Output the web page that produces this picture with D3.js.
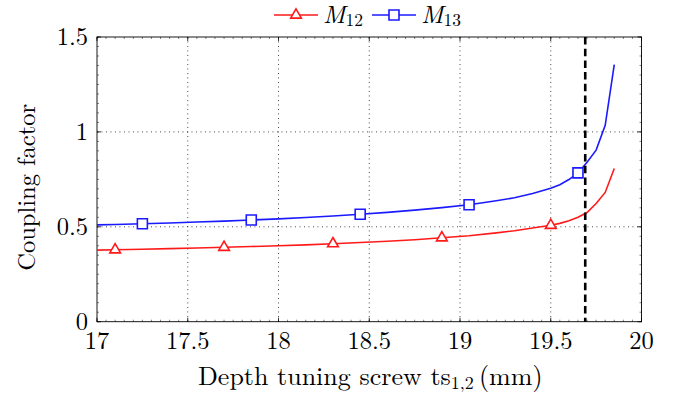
<!DOCTYPE html>
<html>
<head>
<meta charset="utf-8">
<script src="https://cdn.jsdelivr.net/npm/d3@7"></script>
<style>
  body { margin: 0; background: #fff; }
</style>
</head>
<body>
<div id="chart"></div>
<script>
// sample positions along the screw depth (mm)
let depth = [17.0, 17.1, 17.25, 17.4, 17.55, 17.7, 17.85, 18.0, 18.15, 18.3, 18.45, 18.6, 18.75,
	18.9, 19.05, 19.2, 19.3, 19.4, 19.5, 19.55, 19.6, 19.65, 19.7, 19.75, 19.8, 19.85];

let m12 = [0.377, 0.379, 0.382, 0.385, 0.388, 0.392, 0.396, 0.400, 0.405, 0.411, 0.417, 0.424, 0.432,
	0.442, 0.453, 0.468, 0.479, 0.494, 0.508, 0.518, 0.532, 0.550, 0.575, 0.623, 0.681, 0.807];

let m13 = [0.510, 0.512, 0.516, 0.520, 0.525, 0.530, 0.536, 0.542, 0.549, 0.557, 0.566, 0.576, 0.588,
	0.601, 0.616, 0.637, 0.653, 0.675, 0.703, 0.722, 0.749, 0.784, 0.840, 0.904, 1.035, 1.355];

// where the marks sit
let m12Marks = [17.1, 17.7, 18.3, 18.9, 19.5];
let m13Marks = [17.25, 17.85, 18.45, 19.05, 19.65];

let xTicks = [17, 17.5, 18, 18.5, 19, 19.5, 20];
let yTicks = [0, 0.5, 1, 1.5];
let cutoff = 19.69; // dashed marker line

let W = 673, H = 396;
let pLeft = 97, pRight = 641.5, pTop = 37, pBottom = 321.7;
let fs = 24.5; // main font size

let svg = d3.select("#chart").append("svg")
	.attr("width", W)
	.attr("height", H)
	.style("font-family", "'Latin Modern Roman', 'Liberation Serif', serif");

let x = d3.scaleLinear().domain([17, 20]).range([pLeft, pRight]);
let y = d3.scaleLinear().domain([0, 1.5]).range([pBottom, pTop]);

// dotted grid
let grid = svg.append("g")
	.attr("stroke", "#000")
	.attr("stroke-width", 0.8)
	.attr("stroke-dasharray", "0.9 3.6");

grid.selectAll("line.gx")
	.data(xTicks.slice(1, -1))
	.enter().append("line")
	.attr("x1", d => x(d)).attr("x2", d => x(d))
	.attr("y1", pTop).attr("y2", pBottom);

grid.selectAll("line.gy")
	.data(yTicks.slice(1, -1))
	.enter().append("line")
	.attr("x1", pLeft).attr("x2", pRight)
	.attr("y1", d => y(d)).attr("y2", d => y(d));

// minor ticks on all four sides
let minorX = d3.range(17, 20.001, 0.05);
let minorY = d3.range(0, 1.5001, 0.05);
let ticks = svg.append("g").attr("stroke", "#333").attr("stroke-width", 0.6);

minorX.forEach(v => {
	ticks.append("line").attr("x1", x(v)).attr("x2", x(v)).attr("y1", pBottom).attr("y2", pBottom - 2);
	ticks.append("line").attr("x1", x(v)).attr("x2", x(v)).attr("y1", pTop).attr("y2", pTop + 2);
});
minorY.forEach(v => {
	ticks.append("line").attr("x1", pLeft).attr("x2", pLeft + 2).attr("y1", y(v)).attr("y2", y(v));
	ticks.append("line").attr("x1", pRight).attr("x2", pRight - 2).attr("y1", y(v)).attr("y2", y(v));
});

// major ticks
let major = svg.append("g").attr("stroke", "#000").attr("stroke-width", 0.8);
xTicks.forEach(v => {
	major.append("line").attr("x1", x(v)).attr("x2", x(v)).attr("y1", pBottom).attr("y2", pBottom - 4);
	major.append("line").attr("x1", x(v)).attr("x2", x(v)).attr("y1", pTop).attr("y2", pTop + 4);
});
yTicks.forEach(v => {
	major.append("line").attr("x1", pLeft).attr("x2", pLeft + 4).attr("y1", y(v)).attr("y2", y(v));
	major.append("line").attr("x1", pRight).attr("x2", pRight - 4).attr("y1", y(v)).attr("y2", y(v));
});

// frame
svg.append("rect")
	.attr("x", pLeft).attr("y", pTop)
	.attr("width", pRight - pLeft).attr("height", pBottom - pTop)
	.attr("fill", "none").attr("stroke", "#000").attr("stroke-width", 0.9);

// tick labels
svg.selectAll("text.xt")
	.data(xTicks)
	.enter().append("text")
	.attr("x", d => x(d))
	.attr("y", pBottom + 27)
	.attr("text-anchor", "middle")
	.attr("font-size", fs)
	.text(d => d);

svg.selectAll("text.yt")
	.data(yTicks)
	.enter().append("text")
	.attr("x", pLeft - 9)
	.attr("y", d => y(d) + 8)
	.attr("text-anchor", "end")
	.attr("font-size", fs)
	.text(d => d);

// axis titles
let xt = svg.append("text")
	.attr("x", (pLeft + pRight) / 2 + 1)
	.attr("y", 385)
	.attr("text-anchor", "middle")
	.attr("font-size", 26);
xt.append("tspan").text("Depth tuning screw ts");
xt.append("tspan").attr("font-size", 18).attr("dy", 4).text("1,2");
xt.append("tspan").attr("dy", -4).text("\u2009(mm)");

svg.append("text")
	.attr("transform", `translate(35, ${(pTop + pBottom) / 2 + 8}) rotate(-90)`)
	.attr("text-anchor", "middle")
	.attr("font-size", fs)
	.text("Coupling factor");

// curves
let line = d3.line()
	.x(d => x(d[0]))
	.y(d => y(d[1]));

let series = [
	{ name: "12", vals: m12, marks: m12Marks, color: "#ff1a1a", shape: d3.symbolTriangle },
	{ name: "13", vals: m13, marks: m13Marks, color: "#1a1aff", shape: d3.symbolSquare }
];

let plot = svg.append("g");

series.forEach(s => {
	let pts = depth.map((d, i) => [d, s.vals[i]]);
	plot.append("path")
		.datum(pts)
		.attr("d", line)
		.attr("fill", "none")
		.attr("stroke", s.color)
		.attr("stroke-width", 1.6);

	plot.selectAll(null)
		.data(s.marks)
		.enter().append("path")
		.attr("d", d3.symbol().type(s.shape).size(s.shape === d3.symbolSquare ? 100 : 50))
		.attr("transform", d => `translate(${x(d)},${y(s.vals[depth.indexOf(d)])})`)
		.attr("fill", "#fff")
		.attr("stroke", s.color)
		.attr("stroke-width", 1.6);
});

// dashed vertical line
svg.append("line")
	.attr("x1", x(cutoff)).attr("x2", x(cutoff))
	.attr("y1", pTop).attr("y2", pBottom)
	.attr("stroke", "#000")
	.attr("stroke-width", 2.6)
	.attr("stroke-dasharray", "7.5 4.2");

// legend
let legend = svg.append("g");
let lx = [274, 372];
series.forEach((s, i) => {
	let g = legend.append("g").attr("transform", `translate(${lx[i]},15)`);
	g.append("line").attr("x1", 0).attr("x2", 44).attr("y1", 0).attr("y2", 0)
		.attr("stroke", s.color).attr("stroke-width", 1.6);
	g.append("path")
		.attr("d", d3.symbol().type(s.shape).size(s.shape === d3.symbolSquare ? 100 : 50))
		.attr("transform", "translate(22,0)")
		.attr("fill", "#fff").attr("stroke", s.color).attr("stroke-width", 1.6);
	let t = g.append("text").attr("x", 49).attr("y", 7.5).attr("font-size", 25);
	t.append("tspan").attr("font-style", "italic").text("M");
	t.append("tspan").attr("font-size", 17.5).attr("dy", 3.5).text(s.name);
});
</script>
</body>
</html>
